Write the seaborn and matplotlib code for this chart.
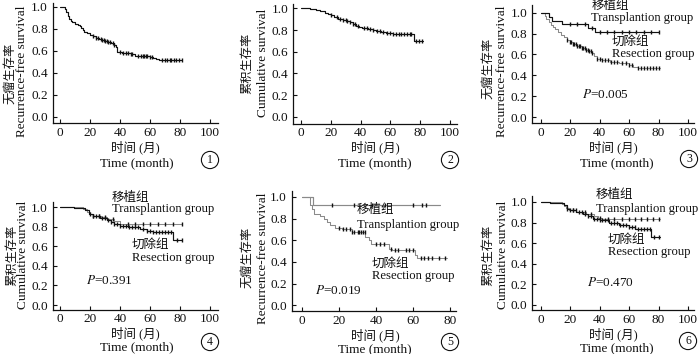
import numpy as np
import pandas as pd
import matplotlib
matplotlib.use('Agg')
import matplotlib.pyplot as plt
import seaborn as sns

# ---------------- data ----------------
p1_t = [0, 3, 4, 5, 6, 7, 8, 10, 12, 13, 14, 15, 16, 18, 20, 22, 24, 26, 28, 30, 32, 34, 36, 37, 38, 41, 44, 47, 50, 60, 62, 64, 66, 81]
p1_s = [1.0, 0.98, 0.95, 0.92, 0.89, 0.87, 0.86, 0.845, 0.835, 0.825, 0.81, 0.79, 0.775, 0.76, 0.745, 0.735, 0.722, 0.71, 0.70, 0.69, 0.68, 0.67, 0.655, 0.635, 0.595, 0.585, 0.578, 0.572, 0.555, 0.545, 0.533, 0.525, 0.515, 0.515]
p1_c = [22, 24, 25, 27, 28, 29, 30, 31, 32, 33, 35, 36, 40, 42, 44, 45, 47, 48, 52, 54, 55, 56, 57, 58, 60, 61, 68, 70, 71, 73, 74, 76, 77, 79, 81]

p2_t = [0, 6, 10, 13, 16, 18, 20, 22, 25, 28, 31, 33, 35, 37, 39, 41, 45, 48, 50, 54, 57, 59, 62, 75.8, 82]
p2_s = [1.0, 0.995, 0.985, 0.975, 0.96, 0.95, 0.935, 0.92, 0.905, 0.895, 0.885, 0.87, 0.855, 0.84, 0.83, 0.815, 0.81, 0.80, 0.795, 0.785, 0.775, 0.77, 0.76, 0.70, 0.70]
p2_c = [20, 24, 26, 28, 30, 31, 33, 35, 36, 38, 42, 44, 46, 48, 51, 53, 55, 58, 60, 62, 64, 66, 67, 69, 71, 73, 74, 77, 79, 81]

p3a_t = [0, 6, 8, 14.5, 32, 37, 80]
p3a_s = [1.0, 0.96, 0.915, 0.89, 0.85, 0.81, 0.81]
p3a_c = [20, 25, 30, 35, 40, 45, 50, 55, 60, 65, 70, 75, 80]
p3b_t = [0, 3, 4, 5.5, 7, 8.5, 10, 12, 14, 16, 18, 20, 22, 25, 28, 31, 33, 35, 36.5, 38, 42, 47, 53, 60, 63, 66, 81]
p3b_s = [1.0, 0.97, 0.94, 0.91, 0.88, 0.86, 0.84, 0.815, 0.79, 0.765, 0.74, 0.72, 0.70, 0.68, 0.665, 0.645, 0.63, 0.61, 0.585, 0.56, 0.545, 0.532, 0.516, 0.50, 0.485, 0.468, 0.468]
p3b_c = [18, 20, 21, 22, 23, 24, 25, 26, 27, 28, 29, 30, 31, 32, 33, 34, 35, 38, 40, 42, 44, 46, 48, 50, 52, 55, 58, 60, 62, 66, 68, 70, 72, 74, 76, 78, 80]

p4a_t = [0, 15.6, 17.8, 20, 22, 27, 31, 36, 40, 81]
p4a_s = [1.0, 0.975, 0.95, 0.925, 0.912, 0.90, 0.88, 0.86, 0.83, 0.83]
p4a_c = [22, 26, 30, 35, 45, 50, 55, 60, 65, 70, 75, 81]
p4b_t = [0, 9, 16.7, 19, 22, 26.7, 31, 34, 36, 40, 45, 49, 53, 58, 62, 75.6, 81]
p4b_s = [1.0, 0.993, 0.965, 0.93, 0.905, 0.89, 0.87, 0.85, 0.83, 0.81, 0.80, 0.795, 0.778, 0.76, 0.745, 0.665, 0.665]
p4b_c = [20, 22, 24, 26, 28, 30, 32, 34, 36, 38, 40, 42, 44, 46, 48, 50, 52, 55, 58, 60, 62, 64, 66, 68, 70, 72, 74, 78, 81]

p5a_t = [0, 5.8, 74.6]
p5a_s = [1.0, 0.923, 0.923]
p5a_c = [16, 28, 38, 45, 60, 65, 67]
p5b_t = [0, 4.5, 5.4, 6.5, 9.9, 11.7, 13.5, 15.3, 18, 21.6, 27, 34.2, 36, 37, 46.8, 48.6, 61, 62, 78]
p5b_s = [1.0, 0.923, 0.89, 0.846, 0.82, 0.80, 0.77, 0.738, 0.717, 0.708, 0.677, 0.63, 0.60, 0.563, 0.523, 0.51, 0.46, 0.435, 0.435]
p5b_c = [20, 22, 24, 26, 27, 28, 30, 31, 32, 33, 34, 40, 42, 44, 48, 50, 52, 56, 58, 60, 64, 66, 68, 70, 74, 77]

p6a_t = [0, 14.4, 15.6, 17, 19, 24.4, 31, 36, 39, 42, 81]
p6a_s = [1.0, 0.984, 0.965, 0.94, 0.92, 0.90, 0.88, 0.86, 0.84, 0.83, 0.83]
p6a_c = [22, 30, 34, 40, 46, 50, 55, 60, 64, 68, 72, 76, 80]
p6b_t = [0, 6.7, 15.6, 17.8, 20, 24.4, 29, 32, 35.6, 40, 46.7, 53, 60, 64.4, 75, 81]
p6b_s = [1.0, 0.99, 0.968, 0.935, 0.92, 0.90, 0.886, 0.86, 0.838, 0.82, 0.795, 0.773, 0.756, 0.74, 0.66, 0.66]
p6b_c = [18, 20, 22, 24, 26, 28, 30, 32, 34, 36, 38, 40, 42, 44, 46, 48, 50, 52, 54, 56, 58, 60, 62, 64, 66, 68, 70, 72, 74, 77, 80]

p_values = ["0.005", "0.391", "0.019", "0.470"]
ylab_rfs = ("无瘤生存率", "Recurrence-free survival")
ylab_cum = ("累积生存率", "Cumulative survival")
xlab = ("时间 (月)", "Time (month)")
grp_tx = ("移植组", "Transplantion group")
grp_rs = ("切除组", "Resection group")

# ---------------- style ----------------
sns.set_style('ticks')
plt.rcParams['font.family'] = ['Liberation Serif', 'Noto Sans CJK SC']
plt.rcParams['mathtext.fontset'] = 'stix'
FS = 9.5
GFS = 9.1

W, H = 700, 354
fig = plt.figure(figsize=(7, 3.54), dpi=100)
fig.patch.set_facecolor('white')

BLACK = '#111111'
GRAY = '#8a8a8a'


def add_panel(x0, sx, y0, sy, xlim, ylim, xticks):
    left = x0 + xlim[0] * sx
    right = x0 + xlim[1] * sx
    bottom = y0 - ylim[0] * sy
    top = y0 - ylim[1] * sy
    ax = fig.add_axes([left / W, 1 - bottom / H, (right - left) / W, (bottom - top) / H])
    ax.set_facecolor('none')
    ax.set_xlim(*xlim)
    ax.set_ylim(*ylim)
    ax.set_xticks(xticks)
    ax.set_yticks([0, 0.2, 0.4, 0.6, 0.8, 1.0])
    ax.set_yticklabels([f"{v:.1f}" for v in [0, 0.2, 0.4, 0.6, 0.8, 1.0]])
    ax.tick_params(direction='in', length=3, width=0.8, labelsize=FS, colors=BLACK)
    ax.tick_params(axis='x', pad=2.5)
    ax.tick_params(axis='y', pad=3.5)
    sns.despine(ax=ax)
    for sp in ['left', 'bottom']:
        ax.spines[sp].set_linewidth(0.9)
        ax.spines[sp].set_color(BLACK)
    ax.set_xlabel('')
    ax.set_ylabel('')
    return ax


def km(ax, t, s, c, color, mcolor=None, lw=0.85):
    df = pd.DataFrame({'t': t, 's': s})
    sns.lineplot(data=df, x='t', y='s', drawstyle='steps-post', color=color,
                 lw=lw, ax=ax, estimator=None, sort=False)
    t_arr = np.asarray(t)
    s_arr = np.asarray(s)
    idx = np.searchsorted(t_arr, np.asarray(c), side='right') - 1
    cd = pd.DataFrame({'t': c, 's': s_arr[idx]})
    sns.scatterplot(data=cd, x='t', y='s', marker='|', s=6, linewidth=1.0,
                    color=mcolor or color, ax=ax, zorder=3)
    ax.set_xlabel('')
    ax.set_ylabel('')


def ptext(x, y, s, **kw):
    fig.text(x / W, 1 - y / H, s, **kw)


def labels(ylab, yl_cn, yl_en, xl_cn, xl_en, circ, num):
    ptext(yl_cn[0], yl_cn[1], ylab[0], rotation=90, ha='center', va='center', fontsize=8.8, color=BLACK)
    ptext(yl_en[0], yl_en[1], ylab[1], rotation=90, ha='center', va='center', fontsize=FS, color=BLACK)
    ptext(xl_cn[0], xl_cn[1], xlab[0], ha='center', va='center', fontsize=9, color=BLACK)
    ptext(xl_en[0], xl_en[1], xlab[1], ha='center', va='center', fontsize=FS, color=BLACK)
    ptext(circ[0], circ[1], num, ha='center', va='center', fontsize=8.5, color=BLACK,
          bbox=dict(boxstyle='circle,pad=0.22', fc='white', ec=BLACK, lw=0.8))


def groups(ax, tx, rs, pv):
    ax.text(tx[0], tx[1], grp_tx[0], fontsize=9, ha='left', va='center', color=BLACK, clip_on=False)
    ax.text(tx[0], tx[2], grp_tx[1], fontsize=GFS, ha='left', va='center', color=BLACK, clip_on=False)
    ax.text(rs[0], rs[1], grp_rs[0], fontsize=9, ha='left', va='center', color=BLACK, clip_on=False)
    ax.text(rs[0], rs[2], grp_rs[1], fontsize=GFS, ha='left', va='center', color=BLACK, clip_on=False)
    ax.text(pv[0], pv[1], "$P$=" + pv[2], fontsize=FS, ha='left', va='center', color=BLACK, clip_on=False)


X100 = [0, 20, 40, 60, 80, 100]

# Panel 1
ax1 = add_panel(60, 1.5, 117, 110, (-5, 105), (-0.055, 1.04), X100)
km(ax1, p1_t, p1_s, p1_c, BLACK)
labels(ylab_rfs, (10, 73), (22, 71), (135, 147), (137, 163), (210, 160), "1")

# Panel 2
ax2 = add_panel(301, 1.49, 116.7, 108.3, (-5.4, 105), (-0.067, 1.04), X100)
km(ax2, p2_t, p2_s, p2_c, BLACK)
labels(ylab_cum, (247, 63), (263, 63), (375, 147), (375, 163), (450, 160), "2")

# Panel 3
ax3 = add_panel(540.5, 1.475, 117.3, 104.7, (-5.6, 104), (-0.057, 1.07), X100)
km(ax3, p3b_t, p3b_s, p3b_c, GRAY, BLACK, lw=0.75)
km(ax3, p3a_t, p3a_s, p3a_c, BLACK)
groups(ax3, (34.5, 1.063, 0.945), (48.5, 0.722, 0.605), (28.2, 0.213, p_values[0]))
labels(ylab_rfs, (488, 68), (502, 71), (613, 147), (617, 163), (689, 159), "3")

# Panel 4
ax4 = add_panel(60, 1.5, 305, 98, (-5, 105), (-0.051, 1.05), X100)
km(ax4, p4a_t, p4a_s, p4a_c, GRAY, BLACK, lw=0.75)
km(ax4, p4b_t, p4b_s, p4b_c, BLACK)
groups(ax4, (34.7, 1.09, 0.98), (48, 0.61, 0.48), (17.3, 0.255, p_values[1]))
labels(ylab_cum, (12, 255), (23, 255), (135, 333), (137, 347), (210, 342), "4")

# Panel 5
ax5 = add_panel(302, 1.853, 305.3, 108.3, (-5.5, 83), (-0.055, 1.06), [0, 20, 40, 60, 80])
km(ax5, p5b_t, p5b_s, p5b_c, GRAY, BLACK, lw=0.75)
km(ax5, p5a_t, p5a_s, p5a_c, GRAY, BLACK, lw=0.85)
groups(ax5, (29.7, 0.88, 0.74), (37.8, 0.38, 0.27), (7, 0.14, p_values[2]))
labels(ylab_rfs, (247, 257), (263, 258), (375, 335), (375, 349), (450, 342), "5")

# Panel 6
ax6 = add_panel(540.5, 1.475, 304.7, 102.7, (-5.6, 104), (-0.052, 1.06), X100)
km(ax6, p6a_t, p6a_s, p6a_c, GRAY, BLACK, lw=0.75)
km(ax6, p6b_t, p6b_s, p6b_c, BLACK)
groups(ax6, (37.3, 1.07, 0.93), (45.5, 0.63, 0.51), (31.5, 0.22, p_values[3]))
labels(ylab_cum, (488, 255), (503, 255), (613, 334), (617, 348), (688, 341), "6")

fig.savefig('out.png', dpi=100, facecolor='white')
